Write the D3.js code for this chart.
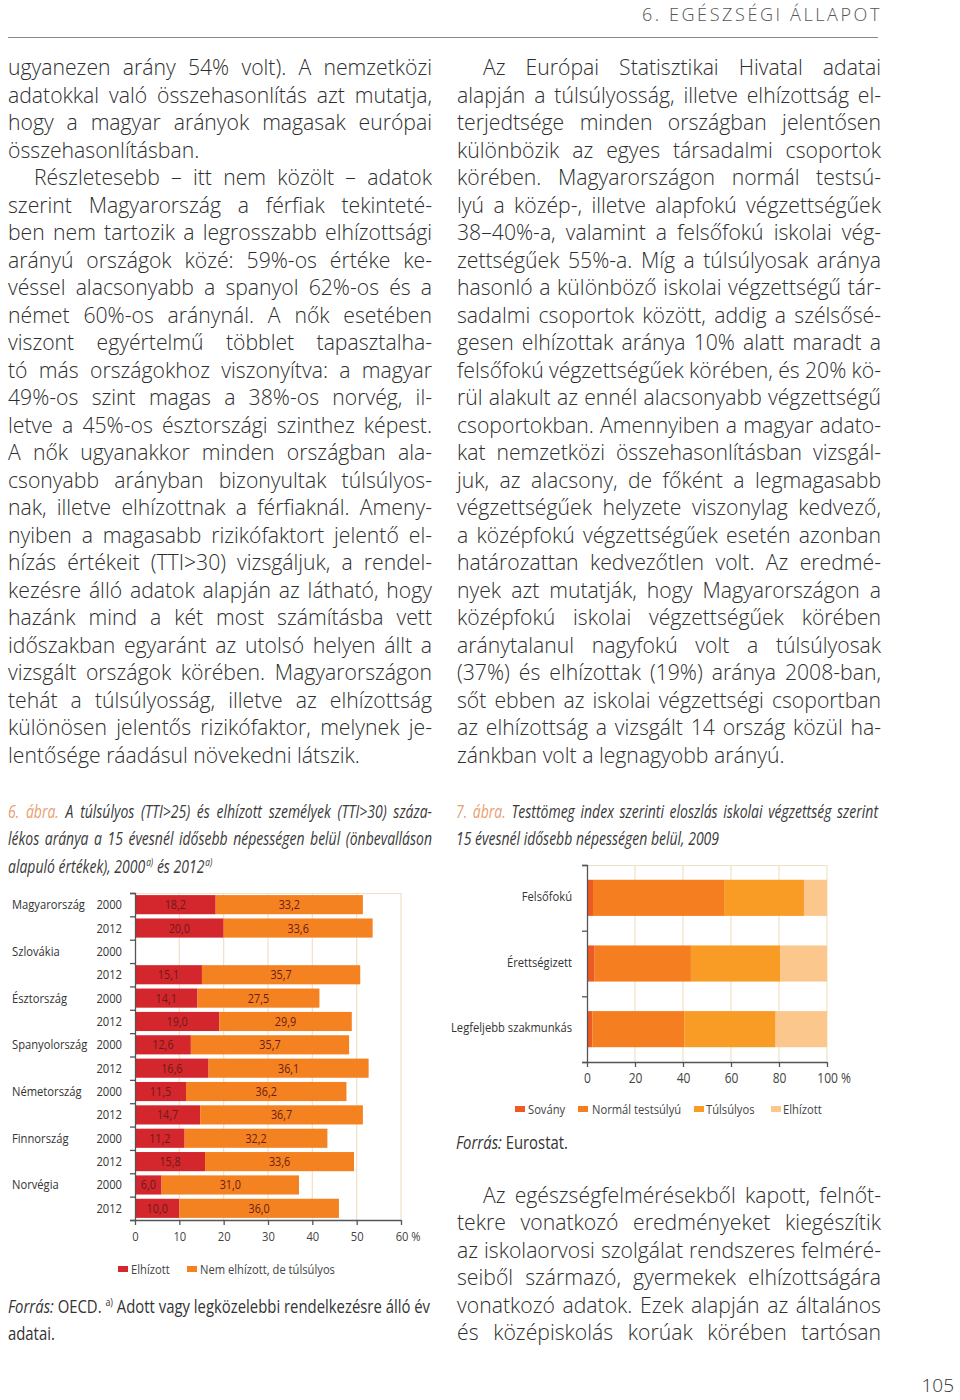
<!DOCTYPE html>
<html><head><meta charset="utf-8">
<script src="https://cdn.jsdelivr.net/npm/d3@7"></script>
<style>body{margin:0;background:#fff} svg{display:block}</style>
</head><body>
<svg id="page" width="960" height="1400"></svg>
<script>
// ---------- Chart 6 data ----------
const countries = ["Magyarország","Szlovákia","Észtország","Spanyolország","Németország","Finnország","Norvégia"];
const years = ["2000","2012"];
const obese2000 = [18.2, null, 14.1, 12.6, 11.5, 11.2, 6.0];
const over2000  = [33.2, null, 27.5, 35.7, 36.2, 32.2, 31.0];
const obese2012 = [20.0, 15.1, 19.0, 16.6, 14.7, 15.8, 10.0];
const over2012  = [33.6, 35.7, 29.9, 36.1, 36.7, 33.6, 36.0];
const ticks6 = [0, 10, 20, 30, 40, 50, 60];
const legend6 = ["Elhízott", "Nem elhízott, de túlsúlyos"];

// ---------- Chart 7 data ----------
const eduCats = ["Felsőfokú", "Érettségizett", "Legfeljebb szakmunkás"];
const bmiCats = ["Sovány", "Normál testsúlyú", "Túlsúlyos", "Elhízott"];
const sovany   = [2.5, 3.2, 2.2];
const normal   = [54.6, 40.1, 38.3];
const tulsuly  = [33.3, 37.3, 38.1];
const elhizott = [9.6, 19.4, 21.4];
const ticks7 = [0, 20, 40, 60, 80, 100];

// ---------- Text ----------
const leftLines = [
 "ugyanezen arány 54% volt). A nemzetközi",
 "adatokkal való összehasonlítás azt mutatja,",
 "hogy a magyar arányok magasak európai",
 "összehasonlításban.¶",
 "§Részletesebb – itt nem közölt – adatok",
 "szerint Magyarország a férfiak tekinteté-",
 "ben nem tartozik a legrosszabb elhízottsági",
 "arányú országok közé: 59%-os értéke ke-",
 "véssel alacsonyabb a spanyol 62%-os és a",
 "német 60%-os aránynál. A nők esetében",
 "viszont egyértelmű többlet tapasztalha-",
 "tó más országokhoz viszonyítva: a magyar",
 "49%-os szint magas a 38%-os norvég, il-",
 "letve a 45%-os észtországi szinthez képest.",
 "A nők ugyanakkor minden országban ala-",
 "csonyabb arányban bizonyultak túlsúlyos-",
 "nak, illetve elhízottnak a férfiaknál. Ameny-",
 "nyiben a magasabb rizikófaktort jelentő el-",
 "hízás értékeit (TTI>30) vizsgáljuk, a rendel-",
 "kezésre álló adatok alapján az látható, hogy",
 "hazánk mind a két most számításba vett",
 "időszakban egyaránt az utolsó helyen állt a",
 "vizsgált országok körében. Magyarországon",
 "tehát a túlsúlyosság, illetve az elhízottság",
 "különösen jelentős rizikófaktor, melynek je-",
 "lentősége ráadásul növekedni látszik.¶"
];
const rightLines = [
 "§Az Európai Statisztikai Hivatal adatai",
 "alapján a túlsúlyosság, illetve elhízottság el-",
 "terjedtsége minden országban jelentősen",
 "különbözik az egyes társadalmi csoportok",
 "körében. Magyarországon normál testsú-",
 "lyú a közép-, illetve alapfokú végzettségűek",
 "38–40%-a, valamint a felsőfokú iskolai vég-",
 "zettségűek 55%-a. Míg a túlsúlyosak aránya",
 "hasonló a különböző iskolai végzettségű tár-",
 "sadalmi csoportok között, addig a szélsősé-",
 "gesen elhízottak aránya 10% alatt maradt a",
 "felsőfokú végzettségűek körében, és 20% kö-",
 "rül alakult az ennél alacsonyabb végzettségű",
 "csoportokban. Amennyiben a magyar adato-",
 "kat nemzetközi összehasonlításban vizsgál-",
 "juk, az alacsony, de főként a legmagasabb",
 "végzettségűek helyzete viszonylag kedvező,",
 "a középfokú végzettségűek esetén azonban",
 "határozattan kedvezőtlen volt. Az eredmé-",
 "nyek azt mutatják, hogy Magyarországon a",
 "középfokú iskolai végzettségűek körében",
 "aránytalanul nagyfokú volt a túlsúlyosak",
 "(37%) és elhízottak (19%) aránya 2008-ban,",
 "sőt ebben az iskolai végzettségi csoportban",
 "az elhízottság a vizsgált 14 ország közül ha-",
 "zánkban volt a legnagyobb arányú.¶"
];
const lowerLines = [
 "§Az egészségfelmérésekből kapott, felnőt-",
 "tekre vonatkozó eredményeket kiegészítik",
 "az iskolaorvosi szolgálat rendszeres felméré-",
 "seiből származó, gyermekek elhízottságára",
 "vonatkozó adatok. Ezek alapján az általános",
 "és középiskolás korúak körében tartósan"
];
const cap6Lines = [
 "~6. ~ábra. A túlsúlyos (TTI>25) és elhízott személyek (TTI>30) száza-",
 "lékos aránya a 15 évesnél idősebb népességen belül (önbevalláson",
 "alapuló értékek), 2000 +^a) és 2012 +^a)¶"
];
const cap7Lines = [
 "~7. ~ábra. Testtömeg index szerinti eloszlás iskolai végzettség szerint",
 "15 évesnél idősebb népességen belül, 2009¶"
];
const src6Lines = [
 "_Forrás: OECD. ^a) Adott vagy legközelebbi rendelkezésre álló év",
 "adatai.¶"
];

const svg = d3.select("#page");
const BODY = "'Open Sans', Lato, 'DejaVu Sans', sans-serif";
const COND = "'Open Sans', 'Liberation Sans', sans-serif";
const SX = 0.83;   // horizontal condensing of chart labels
const TXT = "#2e2e2e";

function parseTok(w){
  const f={it:false,sup:false,col:false,attach:false};
  while(w.length>1 && "_^~+".includes(w[0])){
    if(w[0]==="_")f.it=true; if(w[0]==="^")f.sup=true;
    if(w[0]==="~")f.col=true; if(w[0]==="+")f.attach=true;
    w=w.slice(1);
  }
  f.t=w; return f;
}
function spaceWidth(st){
  const t = svg.append("text").attr("font-family",st.font).attr("font-size",st.size)
    .attr("font-weight",st.weight||400).attr("font-style",st.italic?"italic":"normal");
  t.text("a a"); const w1=t.node().getComputedTextLength();
  t.text("aa"); const w2=t.node().getComputedTextLength();
  t.remove(); return (w1-w2)*(st.sx||1);
}
function drawLine(g, line, x0, x1, y, st){
  const sx=st.sx||1;
  let indent=false, last=false;
  if(line.startsWith("§")){indent=true; line=line.slice(1);}
  if(line.endsWith("¶")){last=true; line=line.slice(0,-1);}
  const toks=line.split(" ").map(parseTok);
  const text=g.append("text").attr("font-family",st.font).attr("font-size",st.size)
    .attr("font-weight",st.weight||400).attr("fill",st.fill)
    .attr("font-style",st.italic?"italic":"normal")
    .attr("transform",`scale(${sx},1)`);
  const spans=toks.map(tk=>{
    const s=text.append("tspan").text(tk.t).attr("y",y);
    if(tk.it) s.attr("font-style","italic");
    if(tk.col) s.attr("fill",st.col);
    if(tk.sup) s.attr("font-size",st.size*0.6).attr("y",y-st.size*0.42);
    return s;
  });
  const widths=spans.map(s=>s.node().getComputedTextLength()*sx);
  const start=x0+(indent?st.indent:0);
  const nGaps=toks.filter((t,i)=>i>0&&!t.attach).length;
  let gap=spaceWidth(st);
  if(!last && nGaps>0) gap=(x1-start-d3.sum(widths))/nGaps;
  let x=start;
  spans.forEach((s,i)=>{ if(i>0&&!toks[i].attach) x+=gap; else if(i>0) x+=1; s.attr("x",x/sx); x+=widths[i]; });
}
function drawBlock(lines, x0, x1, y0, pitch, st){
  const g=svg.append("g");
  lines.forEach((l,i)=>drawLine(g,l,x0,x1,y0+i*pitch,st));
}
// condensed label helper
function cond(sel, x, y){
  return sel.attr("x",0).attr("y",0).attr("transform",(d,i)=>`translate(${typeof x==="function"?x(d,i):x},${typeof y==="function"?y(d,i):y}) scale(${SX},1)`)
    .attr("font-family",COND);
}

// ---------- Header ----------
svg.append("text").attr("x",882).attr("y",21).attr("text-anchor","end")
  .attr("font-family",BODY).attr("font-weight",300).attr("font-size",18)
  .attr("letter-spacing",2.6).attr("fill","#555").text("6. EGÉSZSÉGI ÁLLAPOT");
svg.append("line").attr("x1",8).attr("x2",878).attr("y1",37.5).attr("y2",37.5)
  .attr("stroke","#8a8a8a").attr("stroke-width",1.2);

// ---------- Body text ----------
const bodyStyle={font:BODY,size:21.2,weight:300,fill:TXT,indent:26};
drawBlock(leftLines, 8, 432, 75, 27.5, bodyStyle);
drawBlock(rightLines, 457, 881, 75, 27.5, bodyStyle);
drawBlock(lowerLines, 457, 881, 1203, 27.4, bodyStyle);

// ---------- Captions ----------
const capStyle={font:COND,size:17.5,weight:400,fill:"#3a3a3a",italic:true,col:"#e8a070",indent:0,sx:0.8};
drawBlock(cap6Lines, 8, 432, 818, 27.5, capStyle);
drawBlock(cap7Lines, 456, 878, 818, 27.5, capStyle);
const srcStyle={font:COND,size:17.5,weight:400,fill:"#333",indent:0,sx:0.85};
drawBlock(src6Lines, 8, 430, 1313, 27.5, srcStyle);
drawBlock(["_Forrás: Eurostat.¶"], 456, 880, 1149, 27.5, srcStyle);

// page number
svg.append("text").attr("x",954).attr("y",1392).attr("text-anchor","end")
  .attr("font-family",BODY).attr("font-weight",300).attr("font-size",19).attr("fill","#333").text("105");

// ---------- Chart 6 ----------
const RED="#d4262d", ORANGE="#f58220", GRID="#f0e2c4", AXIS="#555", VAL="#6a1c18";
const rows=[];
countries.forEach((c,i)=>{
  rows.push({c, yr:years[0], ob:obese2000[i], ov:over2000[i], first:true});
  rows.push({c, yr:years[1], ob:obese2012[i], ov:over2012[i], first:false});
});
const x6=d3.scaleLinear().domain([0,60]).range([135,401]);
const y6=d3.scaleBand().domain(d3.range(rows.length)).range([893,1220]).paddingInner(0.18).paddingOuter(0.09);
const yb6=d3.scaleLinear().domain([0,rows.length]).range([893,1220]);
const c6=svg.append("g");
c6.selectAll("line.grid").data(ticks6.slice(1)).join("line")
  .attr("x1",d=>x6(d)).attr("x2",d=>x6(d)).attr("y1",893).attr("y2",1220)
  .attr("stroke",GRID).attr("stroke-width",1.2);
c6.append("line").attr("x1",x6(0)).attr("x2",x6(60)).attr("y1",893.5).attr("y2",893.5).attr("stroke",GRID).attr("stroke-width",1.2);
const rowG=c6.selectAll("g.row").data(rows.filter(r=>r.ob!==null)).join("g");
const rowY=d=>y6(rows.indexOf(d));
rowG.append("rect").attr("x",x6(0)).attr("y",rowY).attr("height",y6.bandwidth())
  .attr("width",d=>x6(d.ob)-x6(0)).attr("fill",RED);
rowG.append("rect").attr("x",d=>x6(d.ob)).attr("y",rowY).attr("height",y6.bandwidth())
  .attr("width",d=>x6(d.ob+d.ov)-x6(d.ob)).attr("fill",ORANGE);
const fmt=d3.format(".1f");
const lab=v=>fmt(v).replace(".",",");
cond(rowG.append("text"), d=>x6(d.ob/2), d=>rowY(d)+y6.bandwidth()/2+4.5)
  .attr("text-anchor","middle").attr("font-size",13).attr("fill",VAL).text(d=>lab(d.ob));
cond(rowG.append("text"), d=>x6(d.ob+d.ov/2), d=>rowY(d)+y6.bandwidth()/2+4.5)
  .attr("text-anchor","middle").attr("font-size",13).attr("fill",VAL).text(d=>lab(d.ov));
// row labels
cond(c6.selectAll("text.yr").data(rows).join("text"), 122, (d,i)=>y6(i)+y6.bandwidth()/2+4.5)
  .attr("text-anchor","end").attr("font-size",13.5).attr("fill","#333").text(d=>d.yr);
cond(c6.selectAll("text.cn").data(rows.filter(r=>r.first)).join("text"), 12, d=>rowY(d)+y6.bandwidth()/2+4.5)
  .attr("font-size",13.5).attr("fill","#333").text(d=>d.c);
// axes
const ay6=c6.append("g").attr("transform","translate(135,0)")
  .call(d3.axisLeft(yb6).tickValues(d3.range(rows.length+1)).tickSize(5).tickFormat(""));
const ax6=c6.append("g").attr("transform","translate(0,1220)")
  .call(d3.axisBottom(x6).tickValues(ticks6).tickSize(5).tickPadding(6).tickFormat(d=>d===60?"60 %":d));
[ay6,ax6].forEach(a=>{a.selectAll("path,line").attr("stroke",AXIS).attr("stroke-width",1.3);});
ax6.selectAll("text").attr("font-family",COND).attr("font-size",13.5).attr("fill","#444").attr("transform",`scale(${SX},1)`)
  .attr("dx",d=>d===60?8:0);
ax6.select("path").attr("d","M135,0.5H401");
// legend
const lg6=c6.append("g");
[[118,131,RED],[187,200,ORANGE]].forEach((p,i)=>{
  lg6.append("rect").attr("x",p[0]).attr("y",1266).attr("width",10).attr("height",6).attr("fill",p[2]);
  cond(lg6.append("text"), p[1], 1274).attr("font-size",13.5).attr("fill","#444").text(legend6[i]);
});

// ---------- Chart 7 ----------
const colors7=["#ee5a24","#f47e20","#f89c26","#fcc78c"];
const data7=eduCats.map((e,i)=>({edu:e, "Sovány":sovany[i], "Normál testsúlyú":normal[i], "Túlsúlyos":tulsuly[i], "Elhízott":elhizott[i]}));
const x7=d3.scaleLinear().domain([0,100]).range([587,827]);
const y7=d3.scaleBand().domain(eduCats).range([865,1062]).paddingInner(0.45).paddingOuter(0.225);
const yb7=d3.scaleLinear().domain([0,3]).range([865,1062]);
const c7=svg.append("g");
c7.selectAll("line.grid").data(ticks7.slice(1)).join("line")
  .attr("x1",d=>x7(d)).attr("x2",d=>x7(d)).attr("y1",865).attr("y2",1062)
  .attr("stroke",GRID).attr("stroke-width",1.2);
c7.append("line").attr("x1",x7(0)).attr("x2",x7(100)).attr("y1",865.5).attr("y2",865.5).attr("stroke",GRID).attr("stroke-width",1.2);
const stack7=d3.stack().keys(bmiCats)(data7);
c7.selectAll("g.s").data(stack7).join("g").attr("fill",(d,i)=>colors7[i])
  .selectAll("rect").data(d=>d).join("rect")
  .attr("x",d=>x7(d[0])).attr("width",d=>x7(d[1])-x7(d[0]))
  .attr("y",d=>y7(d.data.edu)).attr("height",y7.bandwidth());
cond(c7.selectAll("text.cat").data(eduCats).join("text"), 572, d=>y7(d)+y7.bandwidth()/2+3)
  .attr("text-anchor","end").attr("font-size",13.5).attr("fill","#333").text(d=>d);
const ay7=c7.append("g").attr("transform","translate(587,0)")
  .call(d3.axisLeft(yb7).tickValues([0,1,2,3]).tickSize(5).tickFormat(""));
const ax7=c7.append("g").attr("transform","translate(0,1062)")
  .call(d3.axisBottom(x7).tickValues(ticks7).tickSize(5).tickPadding(6).tickFormat(d=>d===100?"100 %":d));
[ay7,ax7].forEach(a=>{a.selectAll("path,line").attr("stroke",AXIS).attr("stroke-width",1.3);});
ax7.selectAll("text").attr("font-family",COND).attr("font-size",14.5).attr("fill","#444").attr("transform",`scale(${SX},1)`)
  .attr("dx",d=>d===100?8:0);
ax7.select("path").attr("d","M587,0.5H827");
const lg7=c7.append("g");
[[515,528],[578,592],[694,706],[771,783]].forEach((p,i)=>{
  lg7.append("rect").attr("x",p[0]).attr("y",1106).attr("width",10).attr("height",6).attr("fill",colors7[i]);
  cond(lg7.append("text"), p[1], 1114).attr("font-size",13.5).attr("fill","#444").text(bmiCats[i]);
});
</script>
</body></html>
